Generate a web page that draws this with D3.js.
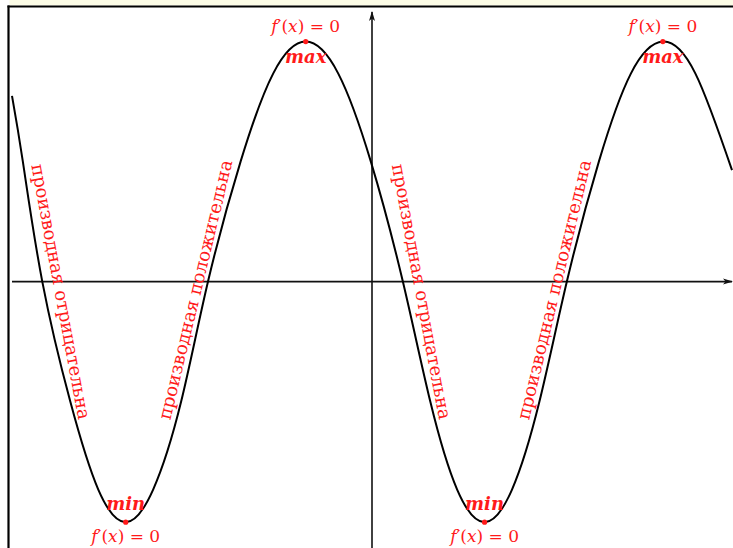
<!DOCTYPE html>
<html>
<head>
<meta charset="utf-8">
<script src="https://cdn.jsdelivr.net/npm/d3@7"></script>
<style>
  html, body { margin: 0; padding: 0; background: #fff; }
  svg { display: block; }
  .label { fill: #ff1a1a; font-family: "DejaVu Serif", serif; }
</style>
</head>
<body>
<svg id="chart" width="733" height="548"></svg>
<script>
// curve (axis units, y axis at x = 0)
const curveX = [-6.30, -6.11, -5.77, -5.28, -4.79, -4.31, -3.83, -3.34, -2.87, -2.30, -1.73, -1.16,
                -0.59, -0.02, 0.54, 1.02, 1.49, 1.97, 2.45, 2.93, 3.41, 3.97, 4.53, 5.09,
                5.66, 6.30];
const curveY = [3.25, 2.10, 0, -2.10, -3.64, -4.21, -3.64, -2.10, 0, 2.10, 3.64, 4.20,
                3.64, 2.10, 0, -2.10, -3.64, -4.21, -3.64, -2.10, 0, 2.10, 3.64, 4.20,
                3.64, 1.95];

const extremaX = [-4.31, -1.16, 1.97, 5.09];
const extremaY = [-4.21, 4.20, -4.21, 4.20];
const extremaKind = ["min", "max", "min", "max"];

const branchLabels = ["производная отрицательна", "производная положительна"];

const xAxisExtent = [-6.3, 6.3];
const yAxisExtent = [-4.66, 4.72];

const width = 733, height = 548;
const red = "#ff1a1a";

const svg = d3.select("#chart");

const x = d3.scaleLinear().domain([-6.3, 6.3]).range([12, 732]);
const y = d3.scaleLinear().domain([-4.2, 4.2]).range([521.6, 41.6]);

// page frame (top strip + borders)
svg.append("rect")
    .attr("x", 9.5).attr("y", 0)
    .attr("width", width).attr("height", 5.5)
    .attr("fill", "#fcfce6");
svg.append("line")
    .attr("x1", 8.5).attr("x2", 8.5)
    .attr("y1", 5.5).attr("y2", height)
    .attr("stroke", "#000").attr("stroke-width", 2.2);
svg.append("line")
    .attr("x1", 7.5).attr("x2", width)
    .attr("y1", 6.5).attr("y2", 6.5)
    .attr("stroke", "#000").attr("stroke-width", 2.2);

// arrow heads
svg.append("defs").append("marker")
    .attr("id", "arrow")
    .attr("viewBox", "0 -4 10 8")
    .attr("refX", 9).attr("refY", 0)
    .attr("markerWidth", 10).attr("markerHeight", 8)
    .attr("markerUnits", "userSpaceOnUse")
    .attr("orient", "auto")
    .append("path")
    .attr("d", "M0,-3L10,0L0,3L2.5,0Z")
    .attr("fill", "#111");

// axes
svg.append("line")
    .attr("x1", x(xAxisExtent[0])).attr("x2", x(xAxisExtent[1]))
    .attr("y1", y(0)).attr("y2", y(0))
    .attr("stroke", "#111").attr("stroke-width", 1.6)
    .attr("marker-end", "url(#arrow)");
svg.append("line")
    .attr("x1", x(0)).attr("x2", x(0))
    .attr("y1", y(yAxisExtent[0])).attr("y2", y(yAxisExtent[1]))
    .attr("stroke", "#111").attr("stroke-width", 1.6)
    .attr("marker-end", "url(#arrow)");

// the function
const line = d3.line()
    .x(d => x(d[0]))
    .y(d => y(d[1]))
    .curve(d3.curveNatural);

svg.append("path")
    .datum(d3.zip(curveX, curveY))
    .attr("d", line)
    .attr("fill", "none")
    .attr("stroke", "#000")
    .attr("stroke-width", 2);

// sign of the derivative along each branch, placed at the zero crossings
const branches = [];
curveY.forEach((v, i) => {
    if (v === 0 && i > 0 && i < curveY.length - 1) {
        branches.push({x: curveX[i], falling: curveY[i + 1] < v});
    }
});

svg.selectAll("text.branch")
    .data(branches)
    .enter()
    .append("text")
    .attr("class", "label branch")
    .attr("transform", d => {
        const cx = x(d.x) + (d.falling ? 19 : -13);
        const cy = y(0) + (d.falling ? 10 : 8);
        return `translate(${cx},${cy}) rotate(${d.falling ? 79.5 : -76.5})`;
    })
    .attr("text-anchor", "middle")
    .attr("dominant-baseline", "central")
    .style("font-size", "18px")
    .text(d => d.falling ? branchLabels[0] : branchLabels[1]);

// extrema: dot, f'(x) = 0 and min / max
extremaX.forEach((ex, i) => {
    const px = x(ex), py = y(extremaY[i]);
    const isMax = extremaKind[i] === "max";

    svg.append("circle")
        .attr("cx", px).attr("cy", py).attr("r", 2.6)
        .attr("fill", red);

    const deriv = svg.append("text")
        .attr("class", "label")
        .attr("x", px)
        .attr("y", isMax ? py - 10 : py + 20)
        .attr("text-anchor", "middle")
        .style("font-size", "17px");
    deriv.append("tspan").style("font-style", "italic").text("f");
    deriv.append("tspan").text("′(");
    deriv.append("tspan").style("font-style", "italic").text("x");
    deriv.append("tspan").text(") = 0");

    svg.append("text")
        .attr("class", "label")
        .attr("x", px)
        .attr("y", isMax ? py + 21 : py - 12)
        .attr("text-anchor", "middle")
        .style("font-size", "18px")
        .style("font-weight", "bold")
        .style("font-style", "italic")
        .text(extremaKind[i]);
});
</script>
</body>
</html>
